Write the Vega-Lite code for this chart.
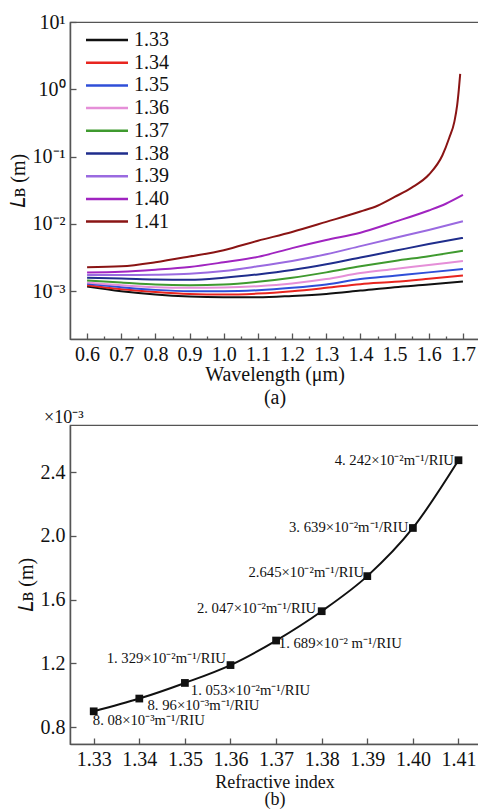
{
  "$schema": "https://vega.github.io/schema/vega-lite/v6.json",
  "background": "white",
  "padding": {"left": 7, "top": 11, "right": 0, "bottom": 0},
  "spacing": 0,
  "config": {
    "font": "'Liberation Serif', serif",
    "view": {"stroke": "#555", "strokeWidth": 1.2},
    "style": {
      "guide-label": {"font": "'Liberation Serif', serif", "fill": "#111"},
      "guide-title": {"font": "'Liberation Serif', serif", "fill": "#111"},
      "group-title": {"font": "'Liberation Serif', serif"}
    },
    "legend": {"labelFont": "'Liberation Serif', serif"},
    "axis": {
      "labelFont": "'Liberation Serif', serif",
      "titleFont": "'Liberation Serif', serif",
      "labelFontSize": 20,
      "titleFontSize": 20,
      "labelColor": "#111",
      "titleColor": "#111",
      "titleFontWeight": "normal",
      "domainColor": "#555",
      "domainWidth": 1.5,
      "tickColor": "#555",
      "tickWidth": 1.3,
      "grid": false,
      "labelOverlap": false
    }
  },
  "datasets": {
    "curves": [
      {"n": "1.33", "wl": 0.6, "lb": 0.001175}, {"n": "1.33", "wl": 0.7, "lb": 0.001}, {"n": "1.33", "wl": 0.8, "lb": 0.000891}, {"n": "1.33", "wl": 0.9, "lb": 0.000832}, {"n": "1.33", "wl": 1.0, "lb": 0.000813}, {"n": "1.33", "wl": 1.1, "lb": 0.000813}, {"n": "1.33", "wl": 1.2, "lb": 0.000851}, {"n": "1.33", "wl": 1.3, "lb": 0.000912}, {"n": "1.33", "wl": 1.4, "lb": 0.001023}, {"n": "1.33", "wl": 1.5, "lb": 0.001148}, {"n": "1.33", "wl": 1.6, "lb": 0.001259}, {"n": "1.33", "wl": 1.7, "lb": 0.001396},
      {"n": "1.34", "wl": 0.6, "lb": 0.00123}, {"n": "1.34", "wl": 0.7, "lb": 0.001072}, {"n": "1.34", "wl": 0.8, "lb": 0.000977}, {"n": "1.34", "wl": 0.9, "lb": 0.000912}, {"n": "1.34", "wl": 1.0, "lb": 0.000891}, {"n": "1.34", "wl": 1.1, "lb": 0.000923}, {"n": "1.34", "wl": 1.2, "lb": 0.001}, {"n": "1.34", "wl": 1.3, "lb": 0.001122}, {"n": "1.34", "wl": 1.4, "lb": 0.001274}, {"n": "1.34", "wl": 1.5, "lb": 0.00138}, {"n": "1.34", "wl": 1.6, "lb": 0.001531}, {"n": "1.34", "wl": 1.7, "lb": 0.00171},
      {"n": "1.35", "wl": 0.6, "lb": 0.001288}, {"n": "1.35", "wl": 0.7, "lb": 0.001148}, {"n": "1.35", "wl": 0.8, "lb": 0.001047}, {"n": "1.35", "wl": 0.9, "lb": 0.001}, {"n": "1.35", "wl": 1.0, "lb": 0.001}, {"n": "1.35", "wl": 1.1, "lb": 0.001035}, {"n": "1.35", "wl": 1.2, "lb": 0.001122}, {"n": "1.35", "wl": 1.3, "lb": 0.001259}, {"n": "1.35", "wl": 1.4, "lb": 0.001514}, {"n": "1.35", "wl": 1.5, "lb": 0.001698}, {"n": "1.35", "wl": 1.6, "lb": 0.001905}, {"n": "1.35", "wl": 1.7, "lb": 0.002143},
      {"n": "1.36", "wl": 0.6, "lb": 0.001349}, {"n": "1.36", "wl": 0.7, "lb": 0.00123}, {"n": "1.36", "wl": 0.8, "lb": 0.001148}, {"n": "1.36", "wl": 0.9, "lb": 0.001122}, {"n": "1.36", "wl": 1.0, "lb": 0.001135}, {"n": "1.36", "wl": 1.1, "lb": 0.001189}, {"n": "1.36", "wl": 1.2, "lb": 0.001303}, {"n": "1.36", "wl": 1.3, "lb": 0.001514}, {"n": "1.36", "wl": 1.4, "lb": 0.001862}, {"n": "1.36", "wl": 1.5, "lb": 0.002138}, {"n": "1.36", "wl": 1.6, "lb": 0.002455}, {"n": "1.36", "wl": 1.7, "lb": 0.002818},
      {"n": "1.37", "wl": 0.6, "lb": 0.001445}, {"n": "1.37", "wl": 0.7, "lb": 0.001349}, {"n": "1.37", "wl": 0.8, "lb": 0.001259}, {"n": "1.37", "wl": 0.9, "lb": 0.00123}, {"n": "1.37", "wl": 1.0, "lb": 0.001259}, {"n": "1.37", "wl": 1.1, "lb": 0.00138}, {"n": "1.37", "wl": 1.2, "lb": 0.001585}, {"n": "1.37", "wl": 1.3, "lb": 0.001905}, {"n": "1.37", "wl": 1.4, "lb": 0.002344}, {"n": "1.37", "wl": 1.5, "lb": 0.002818}, {"n": "1.37", "wl": 1.6, "lb": 0.003311}, {"n": "1.37", "wl": 1.7, "lb": 0.003981},
      {"n": "1.38", "wl": 0.6, "lb": 0.001585}, {"n": "1.38", "wl": 0.7, "lb": 0.001549}, {"n": "1.38", "wl": 0.8, "lb": 0.001496}, {"n": "1.38", "wl": 0.9, "lb": 0.001479}, {"n": "1.38", "wl": 1.0, "lb": 0.001585}, {"n": "1.38", "wl": 1.1, "lb": 0.001778}, {"n": "1.38", "wl": 1.2, "lb": 0.002065}, {"n": "1.38", "wl": 1.3, "lb": 0.002512}, {"n": "1.38", "wl": 1.4, "lb": 0.003162}, {"n": "1.38", "wl": 1.5, "lb": 0.003981}, {"n": "1.38", "wl": 1.6, "lb": 0.005012}, {"n": "1.38", "wl": 1.7, "lb": 0.006194},
      {"n": "1.39", "wl": 0.6, "lb": 0.001738}, {"n": "1.39", "wl": 0.7, "lb": 0.001738}, {"n": "1.39", "wl": 0.8, "lb": 0.001758}, {"n": "1.39", "wl": 0.9, "lb": 0.00182}, {"n": "1.39", "wl": 1.0, "lb": 0.001995}, {"n": "1.39", "wl": 1.1, "lb": 0.002344}, {"n": "1.39", "wl": 1.2, "lb": 0.002818}, {"n": "1.39", "wl": 1.3, "lb": 0.003548}, {"n": "1.39", "wl": 1.4, "lb": 0.004677}, {"n": "1.39", "wl": 1.5, "lb": 0.006166}, {"n": "1.39", "wl": 1.6, "lb": 0.008128}, {"n": "1.39", "wl": 1.7, "lb": 0.01096},
      {"n": "1.40", "wl": 0.6, "lb": 0.001905}, {"n": "1.40", "wl": 0.7, "lb": 0.00195}, {"n": "1.40", "wl": 0.8, "lb": 0.002089}, {"n": "1.40", "wl": 0.9, "lb": 0.002291}, {"n": "1.40", "wl": 1.0, "lb": 0.002692}, {"n": "1.40", "wl": 1.1, "lb": 0.003236}, {"n": "1.40", "wl": 1.2, "lb": 0.004365}, {"n": "1.40", "wl": 1.3, "lb": 0.005754}, {"n": "1.40", "wl": 1.4, "lb": 0.007413}, {"n": "1.40", "wl": 1.5, "lb": 0.01072}, {"n": "1.40", "wl": 1.6, "lb": 0.01585}, {"n": "1.40", "wl": 1.65, "lb": 0.01995}, {"n": "1.40", "wl": 1.7, "lb": 0.02692},
      {"n": "1.41", "wl": 0.6, "lb": 0.002265}, {"n": "1.41", "wl": 0.7, "lb": 0.002344}, {"n": "1.41", "wl": 0.8, "lb": 0.002692}, {"n": "1.41", "wl": 0.9, "lb": 0.003281}, {"n": "1.41", "wl": 1.0, "lb": 0.004074}, {"n": "1.41", "wl": 1.1, "lb": 0.005623}, {"n": "1.41", "wl": 1.2, "lb": 0.007586}, {"n": "1.41", "wl": 1.3, "lb": 0.01072}, {"n": "1.41", "wl": 1.4, "lb": 0.01528}, {"n": "1.41", "wl": 1.45, "lb": 0.01862}, {"n": "1.41", "wl": 1.5, "lb": 0.02512}, {"n": "1.41", "wl": 1.55, "lb": 0.03467}, {"n": "1.41", "wl": 1.6, "lb": 0.0537}, {"n": "1.41", "wl": 1.64, "lb": 0.1047}, {"n": "1.41", "wl": 1.66, "lb": 0.1905}, {"n": "1.41", "wl": 1.675, "lb": 0.3311}, {"n": "1.41", "wl": 1.683, "lb": 0.5754}, {"n": "1.41", "wl": 1.688, "lb": 1.0}, {"n": "1.41", "wl": 1.692, "lb": 1.698}
    ],
    "points": [
      {"ri": 1.33, "lb": 0.9}, {"ri": 1.34, "lb": 0.98}, {"ri": 1.35, "lb": 1.078}, {"ri": 1.36, "lb": 1.19}, {"ri": 1.37, "lb": 1.344}, {"ri": 1.38, "lb": 1.528}, {"ri": 1.39, "lb": 1.748}, {"ri": 1.4, "lb": 2.05}, {"ri": 1.41, "lb": 2.475}
    ],
    "annEnd": [
      {"ri": 1.409, "lb": 2.47, "t": "4. 242×10⁻²m⁻¹/RIU"},
      {"ri": 1.399, "lb": 2.05, "t": "3. 639×10⁻²m⁻¹/RIU"},
      {"ri": 1.3893, "lb": 1.77, "t": "2.645×10⁻²m⁻¹/RIU"},
      {"ri": 1.3788, "lb": 1.54, "t": "2. 047×10⁻²m⁻¹/RIU"},
      {"ri": 1.359, "lb": 1.227, "t": "1. 329×10⁻²m⁻¹/RIU"}
    ],
    "annStart": [
      {"ri": 1.3706, "lb": 1.32, "t": "1. 689×10⁻² m⁻¹/RIU"},
      {"ri": 1.3513, "lb": 1.03, "t": "1. 053×10⁻²m⁻¹/RIU"},
      {"ri": 1.3418, "lb": 0.936, "t": "8. 96×10⁻³m⁻¹/RIU"},
      {"ri": 1.3298, "lb": 0.838, "t": "8. 08×10⁻³m⁻¹/RIU"}
    ]
  },
  "vconcat": [
    {
      "width": 409,
      "height": 317,
      "data": {"name": "curves"},
      "mark": {"type": "line", "strokeWidth": 2, "interpolate": "monotone"},
      "encoding": {
        "x": {
          "field": "wl", "type": "quantitative",
          "scale": {"domain": [0.55, 1.747], "nice": false, "zero": false},
          "axis": {
            "title": ["Wavelength (μm)", "(a)"],
            "titleFont": "'Liberation Serif', serif",
            "labelFont": "'Liberation Serif', serif",
            "labelOverlap": false,
            "titleLineHeight": 23,
            "titlePadding": -3,
            "values": [0.6, 0.65, 0.7, 0.75, 0.8, 0.85, 0.9, 0.95, 1.0, 1.05, 1.1, 1.15, 1.2, 1.25, 1.3, 1.35, 1.4, 1.45, 1.5, 1.55, 1.6, 1.65, 1.7],
            "labelExpr": "abs(datum.value*10 - round(datum.value*10)) > 0.01 ? '' : format(datum.value, '.1f')",
            "tickSize": {"condition": {"test": "abs(datum.value*10 - round(datum.value*10)) > 0.01", "value": -3}, "value": -6},
            "labelPadding": 11
          }
        },
        "y": {
          "field": "lb", "type": "quantitative",
          "scale": {"type": "log", "domain": [0.000195, 10], "nice": false},
          "axis": {
            "title": "𝐿ʙ (m)",
            "titleFont": "'Liberation Serif', serif",
            "labelFont": "'Liberation Serif', serif",
            "labelOverlap": false,
            "titlePadding": 4,
            "values": [0.001, 0.01, 0.1, 1, 10],
            "labelExpr": "datum.value > 5 ? '10¹' : datum.value > 0.5 ? '10⁰' : datum.value > 0.05 ? '10⁻¹' : datum.value > 0.005 ? '10⁻²' : '10⁻³'",
            "tickSize": -6,
            "labelPadding": 11
          }
        },
        "color": {
          "field": "n", "type": "nominal",
          "scale": {
            "domain": ["1.33", "1.34", "1.35", "1.36", "1.37", "1.38", "1.39", "1.40", "1.41"],
            "range": ["#111111", "#e8251f", "#2f4fd8", "#e58fd8", "#3f9a2f", "#1f2d8c", "#9a6ae0", "#a024c0", "#8a1414"]
          },
          "legend": {
            "title": null,
            "orient": "none",
            "legendX": 25,
            "legendY": 6,
            "symbolType": "M-2,0L2,0",
            "symbolSize": 441,
            "symbolStrokeWidth": 2.5,
            "labelFontSize": 20,
            "labelFont": "'Liberation Serif', serif",
            "labelColor": "#111",
            "labelOffset": 15,
            "rowPadding": 0.7
          }
        }
      }
    },
    {
      "width": 409,
      "height": 319,
      "title": {"text": "×10⁻³", "anchor": "start", "frame": "group", "dx": -26, "offset": -2, "fontSize": 18, "font": "'Liberation Serif', serif", "fontWeight": "normal", "color": "#111"},
      "layer": [
        {
          "data": {"name": "points"},
          "mark": {"type": "line", "color": "#111", "strokeWidth": 2, "interpolate": "monotone"},
          "encoding": {
            "x": {
              "field": "ri", "type": "quantitative",
              "scale": {"domain": [1.3248, 1.4145], "nice": false, "zero": false},
              "axis": {
                "title": ["Refractive index", "(b)"],
                "titleFont": "'Liberation Serif', serif",
                "labelFont": "'Liberation Serif', serif",
                "titleFontSize": 18,
                "labelOverlap": false,
                "titleLineHeight": 17,
                "titlePadding": 4,
                "values": [1.33, 1.335, 1.34, 1.345, 1.35, 1.355, 1.36, 1.365, 1.37, 1.375, 1.38, 1.385, 1.39, 1.395, 1.4, 1.405, 1.41],
                "labelExpr": "abs(datum.value*100 - round(datum.value*100)) > 0.01 ? '' : format(datum.value, '.2f')",
                "tickSize": {"condition": {"test": "abs(datum.value*100 - round(datum.value*100)) > 0.01", "value": -3}, "value": -6},
                "labelPadding": 11
              }
            },
            "y": {
              "field": "lb", "type": "quantitative",
              "scale": {"domain": [0.695, 2.696], "nice": false, "zero": false},
              "axis": {
                "title": "𝐿ʙ (m)",
                "titleFont": "'Liberation Serif', serif",
                "labelFont": "'Liberation Serif', serif",
                "labelOverlap": false,
                "titlePadding": 4,
                "values": [0.8, 0.9, 1.0, 1.1, 1.2, 1.3, 1.4, 1.5, 1.6, 1.7, 1.8, 1.9, 2.0, 2.1, 2.2, 2.3, 2.4, 2.5, 2.6],
                "labelExpr": "abs(datum.value*5 - round(datum.value*5)) > 0.01 ? '' : format(datum.value, '.1f')",
                "tickSize": {"condition": {"test": "abs(datum.value*5 - round(datum.value*5)) > 0.01", "value": -3}, "value": -6},
                "labelPadding": 11
              }
            }
          }
        },
        {
          "data": {"name": "points"},
          "mark": {"type": "square", "color": "#111", "size": 60, "opacity": 1},
          "encoding": {
            "x": {"field": "ri", "type": "quantitative"},
            "y": {"field": "lb", "type": "quantitative"}
          }
        },
        {
          "data": {"name": "annEnd"},
          "mark": {"type": "text", "align": "right", "baseline": "middle", "fontSize": 14.7, "font": "'Liberation Serif', serif", "color": "#111"},
          "encoding": {
            "x": {"field": "ri", "type": "quantitative"},
            "y": {"field": "lb", "type": "quantitative"},
            "text": {"field": "t"}
          }
        },
        {
          "data": {"name": "annStart"},
          "mark": {"type": "text", "align": "left", "baseline": "middle", "fontSize": 14.7, "font": "'Liberation Serif', serif", "color": "#111"},
          "encoding": {
            "x": {"field": "ri", "type": "quantitative"},
            "y": {"field": "lb", "type": "quantitative"},
            "text": {"field": "t"}
          }
        }
      ]
    }
  ]
}
